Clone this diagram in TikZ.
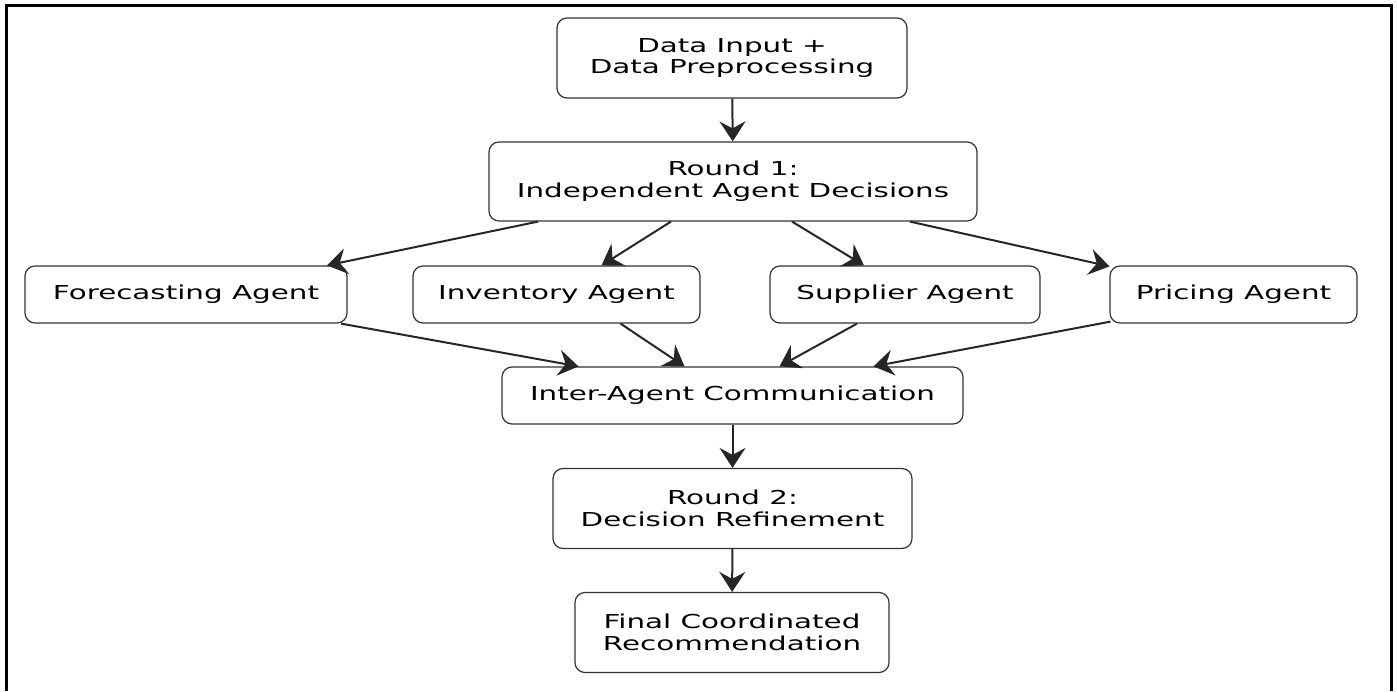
\documentclass[tikz,border=0pt]{standalone}
\usepackage{fontspec}
\setmainfont{DejaVu Sans}[FakeStretch=1.53]
\usetikzlibrary{arrows.meta,calc}
\begin{document}
\begin{tikzpicture}[x=1pt,y=-1pt,
  box/.style={draw=black!80,line width=1.2pt,rounded corners=10pt,align=center,
    font=\fontsize{19.2}{21.7}\selectfont,inner sep=0pt},
  arr/.style={draw=black!85,line width=2pt,-{Stealth[length=20pt,width=26pt,inset=7pt]}}]
\useasboundingbox (0,0) rectangle (1397,691);
\draw[line width=2.4pt] (6.5,691) -- (6.5,5.5) -- (1391.5,5.5) -- (1391.5,691);
\node[box,minimum width=350pt,minimum height=80pt] (din) at (732,58) {Data Input +\\Data Preprocessing};
\node[box,minimum width=488pt,minimum height=79pt] (r1) at (733,181.5) {Round 1:\\Independent Agent Decisions};
\node[box,minimum width=322pt,minimum height=57pt] (fc) at (186,294.5) {Forecasting Agent};
\node[box,minimum width=287pt,minimum height=57pt] (inv) at (556.5,294.5) {Inventory Agent};
\node[box,minimum width=270pt,minimum height=57pt] (sup) at (905,294.5) {Supplier Agent};
\node[box,minimum width=247pt,minimum height=57pt] (pr) at (1233.5,294.5) {Pricing Agent};
\node[box,minimum width=461pt,minimum height=57pt] (iac) at (732.5,395.5) {Inter-Agent Communication};
\node[box,minimum width=359pt,minimum height=80pt] (r2) at (732.5,508.5) {Round 2:\\Decision Refinement};
\node[box,minimum width=314pt,minimum height=80pt] (fin) at (732,632.5) {Final Coordinated\\Recommendation};
\draw[arr] (din) -- (r1);
\draw[arr] ([xshift=-195pt]r1.south) -- ([xshift=141pt]fc.north);
\draw[arr] ([xshift=-62pt]r1.south) -- ([xshift=45pt]inv.north);
\draw[arr] ([xshift=59pt]r1.south) -- ([xshift=-41pt]sup.north);
\draw[arr] ([xshift=177pt]r1.south) -- ([xshift=-124pt,yshift=-1pt]pr.north);
\draw[arr] ([xshift=155pt]fc.south) -- ([xshift=-154pt]iac.north);
\draw[arr] ([xshift=64pt]inv.south) -- ([xshift=-48pt]iac.north);
\draw[arr] ([xshift=-48pt]sup.south) -- ([xshift=47pt]iac.north);
\draw[arr] ([xshift=-123pt,yshift=2pt]pr.south) -- ([xshift=141pt]iac.north);
\draw[arr] (iac) -- (r2);
\draw[arr] (r2) -- (fin);
\end{tikzpicture}
\end{document}
